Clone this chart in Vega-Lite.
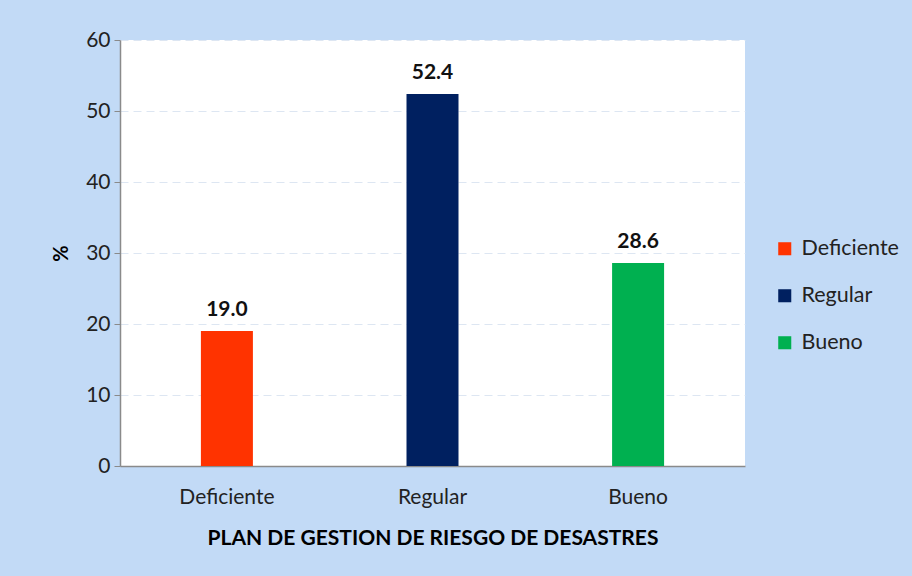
{
  "$schema": "https://vega.github.io/schema/vega-lite/v6.json",
  "autosize": "none",
  "width": 625,
  "height": 426,
  "padding": {"left": 120, "top": 40, "right": 167, "bottom": 110},
  "background": "#c2daf6",
  "view": {"fill": "white", "stroke": null},
  "data": {
    "values": [
      {"categoria": "Deficiente", "porcentaje": 19.0},
      {"categoria": "Regular", "porcentaje": 52.4},
      {"categoria": "Bueno", "porcentaje": 28.6}
    ]
  },
  "encoding": {
    "x": {
      "field": "categoria",
      "type": "nominal",
      "sort": ["Deficiente", "Regular", "Bueno"],
      "scale": {"paddingInner": 0, "paddingOuter": 0.02},
      "axis": {
        "title": "PLAN DE GESTION DE RIESGO DE DESASTRES",
        "labelAngle": 0,
        "ticks": false,
        "labelPadding": 20,
        "labelFontSize": 21,
        "labelColor": "#222222",
        "titleFontSize": 21,
        "titleFontWeight": "bold",
        "titleColor": "#000000",
        "titlePadding": 20,
        "domainColor": "#8a8a8a",
        "domainWidth": 1.5,
        "grid": false
      }
    },
    "y": {
      "field": "porcentaje",
      "type": "quantitative",
      "scale": {"domain": [0, 60]},
      "axis": {
        "title": "%",
        "values": [0, 10, 20, 30, 40, 50, 60],
        "labelFontSize": 21,
        "labelColor": "#222222",
        "labelPadding": 4,
        "tickSize": 6,
        "tickColor": "#8a8a8a",
        "domainColor": "#8a8a8a",
        "domainWidth": 1.5,
        "titleFontSize": 20,
        "titleFontWeight": "bold",
        "titleColor": "#000000",
        "titlePadding": 14,
        "gridColor": "#dde6f2",
        "gridDash": [8, 5],
        "gridWidth": 1
      }
    }
  },
  "layer": [
    {
      "mark": {"type": "bar", "size": 52},
      "encoding": {
        "color": {
          "field": "categoria",
          "type": "nominal",
          "scale": {"domain": ["Deficiente", "Regular", "Bueno"], "range": ["#ff3300", "#002060", "#00b050"]},
          "legend": {
            "title": null,
            "orient": "none",
            "legendX": 654,
            "legendY": 198,
            "symbolType": "square",
            "symbolSize": 170,
            "symbolStrokeWidth": 0,
            "labelFontSize": 21.5,
            "labelColor": "#222222",
            "rowPadding": 24,
            "labelOffset": 6
          }
        }
      }
    },
    {
      "mark": {"type": "text", "baseline": "bottom", "dy": -11, "fontSize": 21, "fontWeight": "bold", "color": "#111111"},
      "encoding": {
        "text": {"field": "porcentaje", "type": "quantitative", "format": ".1f"}
      }
    }
  ],
  "config": {
    "font": "Lato",
    "axis": {"labelFont": "Lato", "titleFont": "Lato"},
    "legend": {"labelFont": "Lato"}
  }
}
